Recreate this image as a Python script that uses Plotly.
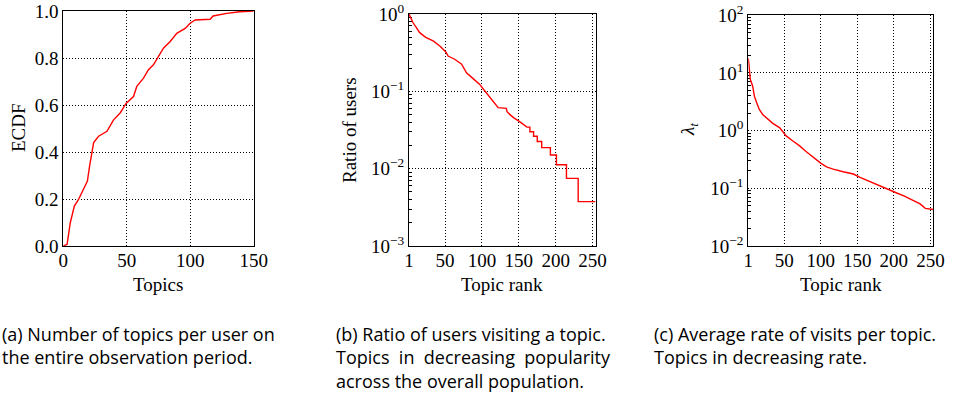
import plotly.graph_objects as go

# ---------------- data ----------------
ecdf_topics = [0, 3, 5.5, 8.7, 12, 16, 19, 20.7, 22.6, 23.9, 27.8, 34.4, 39.6, 44.8, 49.6,
               55.3, 57.9, 63.2, 67.1, 71, 74.9, 78.9, 84.2, 89.4, 96, 99.9, 103.9, 115.7,
               118, 128.8, 139, 150]
ecdf_values = [0, 0.007, 0.099, 0.17, 0.198, 0.24, 0.276, 0.34, 0.396, 0.44, 0.467, 0.488,
               0.537, 0.566, 0.608, 0.636, 0.679, 0.714, 0.75, 0.771, 0.806, 0.842, 0.87,
               0.905, 0.926, 0.948, 0.962, 0.965, 0.979, 0.99, 0.997, 1.0]

ratio_rank = [1, 6.5, 11, 15.5, 23.7, 33.7, 42.8, 51, 54, 63,
              72.4, 79, 88, 97, 102.8, 111, 117.8, 122, 133, 134,
              138, 142.8, 152, 161, 165, 165, 170, 170, 175, 175,
              181, 181, 192.8, 192.8, 201, 201, 214.6, 214.6, 230.5, 230.5,
              254]
ratio_value = [1.0, 0.77, 0.665, 0.574, 0.50, 0.448, 0.386, 0.323, 0.286, 0.26,
               0.224, 0.174, 0.146, 0.123, 0.104, 0.083, 0.068, 0.0615, 0.0603, 0.0545,
               0.050, 0.0457, 0.040, 0.0345, 0.0345, 0.0300, 0.0300, 0.0262, 0.0262, 0.0225,
               0.0225, 0.0187, 0.0187, 0.0150, 0.0150, 0.01124, 0.01124, 0.0075, 0.0075, 0.00375,
               0.00375]

rate_rank = [1, 2.4, 3.8, 7, 9.3, 12.5, 16, 20.7, 25.3, 34.5, 43.7, 49, 52.8, 62, 71.2, 80.4,
             89.5, 100, 107.9, 117, 130.8, 144.6, 153.8, 167.5, 181, 195, 204, 213, 227, 236,
             243, 254]
rate_value = [18, 11.4, 7.7, 5.9, 3.96, 3.04, 2.33, 1.91, 1.68, 1.34, 1.13, 0.95, 0.81, 0.66,
              0.544, 0.43, 0.342, 0.273, 0.236, 0.215, 0.194, 0.177, 0.155, 0.13, 0.108, 0.091,
              0.083, 0.0748, 0.0612, 0.0536, 0.045, 0.043]

rank_ticks = [1, 50, 100, 150, 200, 250]
ecdf_xticks = [0, 50, 100, 150]
ecdf_yticks = [0.0, 0.2, 0.4, 0.6, 0.8, 1.0]
ratio_exps = [-3, -2, -1, 0]
rate_exps = [-2, -1, 0, 1, 2]

captions = {
    "a": ["(a) Number of topics per user on", "the entire observation period."],
    "b": ["(b) Ratio of users visiting a topic.",
          "Topics\u00a0\u00a0in\u00a0\u00a0decreasing\u00a0\u00a0popularity",
          "across the overall population."],
    "c": ["(c) Average rate of visits per topic.", "Topics in decreasing rate."],
}

# ---------------- layout helpers ----------------
W, H = 965, 403
def px(x):
    return x / W
def py(y):
    return 1 - y / H

def pow_labels(exps):
    return ["10<sup>" + (str(e) if e >= 0 else "\u2212" + str(-e)) + "</sup>" for e in exps]

def minor_logs(exps):
    vals = []
    for e in exps[:-1]:
        for m in range(2, 10):
            vals.append(m * 10 ** e)
    return vals

TICKFONT = dict(family="Liberation Serif, DejaVu Serif, serif", size=19, color="black")
RED = "#ff0000"

fig = go.Figure()
fig.add_trace(go.Scatter(x=ecdf_topics, y=ecdf_values, mode="lines",
                         line=dict(color=RED, width=1.4), xaxis="x", yaxis="y"))
fig.add_trace(go.Scatter(x=ratio_rank, y=ratio_value, mode="lines",
                         line=dict(color=RED, width=1.4), xaxis="x2", yaxis="y2"))
fig.add_trace(go.Scatter(x=rate_rank, y=rate_value, mode="lines",
                         line=dict(color=RED, width=1.4), xaxis="x3", yaxis="y3"))

common = dict(showline=True, linecolor="black", linewidth=1, mirror=True,
              showgrid=True, gridcolor="black", gridwidth=1, griddash="1px,2px",
              zeroline=False, tickfont=TICKFONT, ticks="", automargin=False,
              layer="below traces")
xcommon = dict(common, ticklabelstandoff=-3)

def minor_cfg(exps):
    return dict(tickmode="array", tickvals=minor_logs(exps), ticks="inside", ticklen=3,
                tickcolor="black", tickwidth=1, showgrid=False)

fig.update_layout(
    width=W, height=H, margin=dict(l=0, r=0, t=0, b=0, autoexpand=False),
    paper_bgcolor="white", plot_bgcolor="white", showlegend=False,
    xaxis=dict(domain=[px(63.3), px(253.7)], anchor="y", range=[0, 150],
               tickvals=ecdf_xticks, **xcommon),
    yaxis=dict(domain=[py(246), py(11)], anchor="x", range=[0, 1],
               tickvals=ecdf_yticks, tickformat=".1f", **common),
    xaxis2=dict(domain=[px(409), px(595.5)], anchor="y2", range=[1, 254],
                tickvals=rank_ticks, **xcommon),
    yaxis2=dict(domain=[py(246), py(14)], anchor="x2", type="log", range=[-3, 0],
                tickvals=[10 ** e for e in ratio_exps], ticktext=pow_labels(ratio_exps),
                minor=minor_cfg(ratio_exps), **common),
    xaxis3=dict(domain=[px(748.3), px(933.3)], anchor="y3", range=[1, 254],
                tickvals=rank_ticks, **xcommon),
    yaxis3=dict(domain=[py(246), py(15.3)], anchor="x3", type="log", range=[-2, 2],
                tickvals=[10 ** e for e in rate_exps], ticktext=pow_labels(rate_exps),
                minor=minor_cfg(rate_exps), **common),
)

ann = []
TITLEFONT = dict(family="Liberation Serif, DejaVu Serif, serif", size=19, color="black")
# axis titles
ann.append(dict(text="ECDF", x=px(18), y=py(128), textangle=-90, font=TITLEFONT))
ann.append(dict(text="Topics", x=px(158), y=py(284), font=TITLEFONT))
ann.append(dict(text="Ratio of users", x=px(350), y=py(130), textangle=-90, font=TITLEFONT))
ann.append(dict(text="Topic rank", x=px(502), y=py(284), font=TITLEFONT))
ann.append(dict(text="<i>λ</i><sub><i>t</i></sub>", x=px(689), y=py(130), textangle=-90,
                font=TITLEFONT))
ann.append(dict(text="Topic rank", x=px(841), y=py(284), font=TITLEFONT))

CAPFONT = dict(family="Open Sans, Lato, sans-serif", size=18, color="black")
cap_x = {"a": 0, "b": 334, "c": 652}
for key, lines in captions.items():
    ann.append(dict(text="<br>".join(lines), x=px(cap_x[key]), y=py(320), xanchor="left",
                    yanchor="top", align="left", font=CAPFONT))

for a in ann:
    a.update(xref="paper", yref="paper", showarrow=False)
    a.setdefault("xanchor", "center")
    a.setdefault("yanchor", "middle")
fig.update_layout(annotations=ann)

fig.write_html("out.html", config={"displayModeBar": False},
               post_script="document.body.style.margin='0';document.body.style.padding='0';")
